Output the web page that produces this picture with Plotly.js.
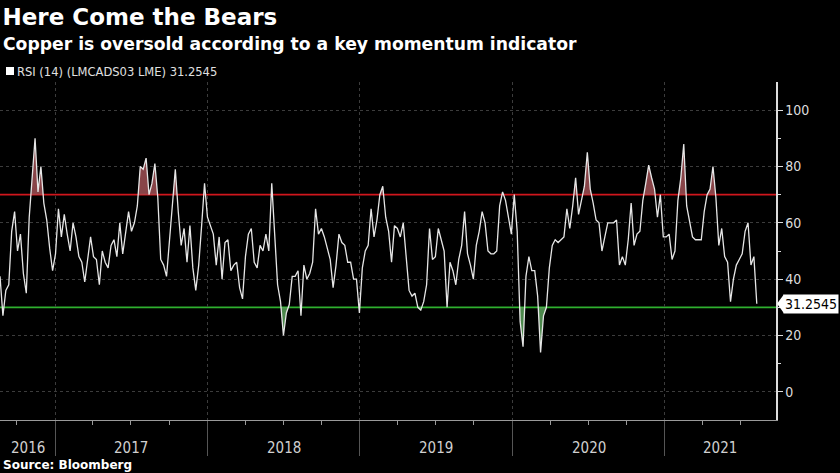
<!DOCTYPE html>
<html><head><meta charset="utf-8">
<script src="https://cdn.plot.ly/plotly-3.0.1.min.js"></script>
<style>html,body{margin:0;padding:0;background:#000;}#chart{width:840px;height:473px;}</style>
</head><body><div id="chart"></div>
<script>
// Weekly observation dates
const dates = [
"2016-08-22","2016-08-29","2016-09-05","2016-09-12","2016-09-19","2016-09-26","2016-10-03","2016-10-10","2016-10-17","2016-10-24","2016-10-31","2016-11-07","2016-11-14","2016-11-21","2016-11-28","2016-12-05","2016-12-12","2016-12-19","2016-12-26",
"2017-01-02","2017-01-09","2017-01-16","2017-01-23","2017-01-30","2017-02-06","2017-02-13","2017-02-20","2017-02-27","2017-03-06","2017-03-13","2017-03-20","2017-03-27","2017-04-03","2017-04-10","2017-04-17","2017-04-24","2017-05-01","2017-05-08","2017-05-15","2017-05-22","2017-05-29","2017-06-05","2017-06-12","2017-06-19","2017-06-26","2017-07-03","2017-07-10","2017-07-17","2017-07-24","2017-07-31","2017-08-07","2017-08-14","2017-08-21","2017-08-28","2017-09-04","2017-09-11","2017-09-18","2017-09-25","2017-10-02","2017-10-09","2017-10-16","2017-10-23","2017-10-30","2017-11-06","2017-11-13","2017-11-20","2017-11-27","2017-12-04","2017-12-11","2017-12-18","2017-12-25",
"2018-01-01","2018-01-08","2018-01-15","2018-01-22","2018-01-29","2018-02-05","2018-02-12","2018-02-19","2018-02-26","2018-03-05","2018-03-12","2018-03-19","2018-03-26","2018-04-02","2018-04-09","2018-04-16","2018-04-23","2018-04-30","2018-05-07","2018-05-14","2018-05-21","2018-05-28","2018-06-04","2018-06-11","2018-06-18","2018-06-25","2018-07-02","2018-07-09","2018-07-16","2018-07-23","2018-07-30","2018-08-06","2018-08-13","2018-08-20","2018-08-27","2018-09-03","2018-09-10","2018-09-17","2018-09-24","2018-10-01","2018-10-08","2018-10-15","2018-10-22","2018-10-29","2018-11-05","2018-11-12","2018-11-19","2018-11-26","2018-12-03","2018-12-10","2018-12-17","2018-12-24","2018-12-31",
"2019-01-07","2019-01-14","2019-01-21","2019-01-28","2019-02-04","2019-02-11","2019-02-18","2019-02-25","2019-03-04","2019-03-11","2019-03-18","2019-03-25","2019-04-01","2019-04-08","2019-04-15","2019-04-22","2019-04-29","2019-05-06","2019-05-13","2019-05-20","2019-05-27","2019-06-03","2019-06-10","2019-06-17","2019-06-24","2019-07-01","2019-07-08","2019-07-15","2019-07-22","2019-07-29","2019-08-05","2019-08-12","2019-08-19","2019-08-26","2019-09-02","2019-09-09","2019-09-16","2019-09-23","2019-09-30","2019-10-07","2019-10-14","2019-10-21","2019-10-28","2019-11-04","2019-11-11","2019-11-18","2019-11-25","2019-12-02","2019-12-09","2019-12-16","2019-12-23","2019-12-30",
"2020-01-06","2020-01-13","2020-01-20","2020-01-27","2020-02-03","2020-02-10","2020-02-17","2020-02-24","2020-03-02","2020-03-09","2020-03-16","2020-03-23","2020-03-30","2020-04-06","2020-04-13","2020-04-20","2020-04-27","2020-05-04","2020-05-11","2020-05-18","2020-05-25","2020-06-01","2020-06-08","2020-06-15","2020-06-22","2020-06-29","2020-07-06","2020-07-13","2020-07-20","2020-07-27","2020-08-03","2020-08-10","2020-08-17","2020-08-24","2020-08-31","2020-09-07","2020-09-14","2020-09-21","2020-09-28","2020-10-05","2020-10-12","2020-10-19","2020-10-26","2020-11-02","2020-11-09","2020-11-16","2020-11-23","2020-11-30","2020-12-07","2020-12-14","2020-12-21","2020-12-28",
"2021-01-04","2021-01-11","2021-01-18","2021-01-25","2021-02-01","2021-02-08","2021-02-15","2021-02-22","2021-03-01","2021-03-08","2021-03-15","2021-03-22","2021-03-29","2021-04-05","2021-04-12","2021-04-19","2021-04-26","2021-05-03","2021-05-10","2021-05-17","2021-05-24","2021-05-31","2021-06-07","2021-06-14","2021-06-21","2021-06-28","2021-07-05","2021-07-12","2021-07-19","2021-07-26","2021-08-02","2021-08-09"
];
// RSI (14) values
const rsi = [
41,27,36,38,57,64,50,56,42,35,62,75,90,71,80,67,61,51,43,
49,65,55,63,56,50,60,55,48,46,39,48,55,48,47,38,50,46,44,52,54,48,60,49,57,64,57,60,66,80,79,83,70,74,81,69,47,45,41,53,68,79,64,52,58,46,59,44,36,45,59,74,
62,59,56,45,55,40,53,54,43,45,46,37,33,48,56,58,46,44,52,50,56,50,74,56,38,32,20,28,31,41,41,43,27,45,40,42,46,65,56,58,55,51,47,37,45,56,53,52,46,46,40,40,28,
44,50,52,65,55,61,70,73,62,57,46,59,58,55,60,48,36,34,35,30,29,32,38,58,47,48,58,54,50,30,46,43,38,47,52,64,49,45,40,52,57,64,60,50,49,49,50,66,71,68,62,56,
70,57,25,16,41,48,43,43,34,14,27,30,44,52,54,53,54,55,65,58,66,76,63,68,73,85,72,67,61,60,50,55,60,60,60,61,45,48,45,54,67,52,56,57,68,74,80.5,76,72,62,70,55,
55,56,47,50,68,76,88,66,60,55,54,54,54,64,70,72,80,69,52,58,48,46,32,40,45,47,49,57,60,45,48,31.2545
];
const yearLabels = ["2016","2017","2018","2019","2020","2021"];
const yearStarts = ["2017-01-01","2018-01-01","2019-01-01","2020-01-01","2021-01-01"];
const quarterTicks = ["2016-10-01","2017-04-01","2017-07-01","2017-10-01","2018-04-01","2018-07-01","2018-10-01",
  "2019-04-01","2019-07-01","2019-10-01","2020-04-01","2020-07-01","2020-10-01","2021-04-01","2021-07-01"];
const yTicks = [0,20,40,60,80,100];
const yMinorTicks = [10,30,50,70,90];
const OVERBOUGHT = 70, OVERSOLD = 30;
const xRange = ["2016-08-22","2021-09-24"];
const yRange = [-10,110];
const seriesName = "RSI (14) (LMCADS03 LME)";

const COND = "DejaVu Sans Condensed, Liberation Sans Narrow, sans-serif";
const BOLD = "DejaVu Sans, Verdana, sans-serif";
const t = dates.map(d => new Date(d).getTime());

function band(thr, above) {
  const xs = [], ys = [];
  for (let i = 0; i < rsi.length; i++) {
    if (i > 0) {
      const a = rsi[i-1] - thr, b = rsi[i] - thr;
      if (a * b < 0) {
        const f = a / (a - b);
        xs.push(t[i-1] + f * (t[i] - t[i-1])); ys.push(thr);
      }
    }
    xs.push(t[i]);
    ys.push(above ? Math.max(rsi[i], thr) : Math.min(rsi[i], thr));
  }
  return {x: xs, y: ys};
}
const hi = band(OVERBOUGHT, true), lo = band(OVERSOLD, false);

const traces = [
  {x: hi.x, y: hi.x.map(() => OVERBOUGHT), mode: "lines", line: {width: 0}, hoverinfo: "skip", showlegend: false},
  {x: hi.x, y: hi.y, mode: "lines", line: {width: 0}, fill: "tonexty", fillcolor: "rgba(170,85,90,0.8)", hoverinfo: "skip", showlegend: false},
  {x: lo.x, y: lo.x.map(() => OVERSOLD), mode: "lines", line: {width: 0}, hoverinfo: "skip", showlegend: false},
  {x: lo.x, y: lo.y, mode: "lines", line: {width: 0}, fill: "tonexty", fillcolor: "rgba(95,170,95,0.8)", hoverinfo: "skip", showlegend: false},
  {x: t, y: rsi, mode: "lines", name: seriesName, line: {color: "#e6e6e6", width: 1.3}, showlegend: false}
];

function mid(a, b) { return (a + b) / 2; }
const r0 = new Date(xRange[0]).getTime(), r1 = new Date(xRange[1]).getTime();
const bounds = [r0].concat(yearStarts.map(d => new Date(d).getTime())).concat([r1]);
const annotations = yearLabels.map((y, i) => ({
  x: mid(bounds[i], bounds[i+1]), xref: "x", y: 0, yref: "paper", yanchor: "middle", yshift: -28,
  text: y, showarrow: false, font: {family: COND, size: 15, color: "#d0d0d0"}
}));
annotations.push({
  x: 0, xref: "paper", xanchor: "left", xshift: 1, y: 1, yref: "paper", yanchor: "middle", yshift: 38,
  text: "<b>Copper is oversold according to a key momentum indicator</b>", showarrow: false,
  font: {family: BOLD, size: 17.2, color: "#ffffff"}
});
annotations.push({
  x: 0, xref: "paper", xanchor: "left", xshift: 15, y: 1, yref: "paper", yanchor: "middle", yshift: 11,
  text: seriesName + " " + rsi[rsi.length-1], showarrow: false,
  font: {family: COND, size: 12.8, color: "#e0e0e0"}
});
annotations.push({
  x: 0, xref: "paper", xanchor: "left", xshift: 1, y: 0, yref: "paper", yanchor: "middle", yshift: -45,
  text: "<b>Source: Bloomberg</b>", showarrow: false, font: {family: BOLD, size: 12, color: "#ffffff"}
});
annotations.push({
  x: 1, xref: "paper", xanchor: "left", xshift: 7, y: rsi[rsi.length-1], yref: "y", yanchor: "middle",
  text: String(rsi[rsi.length-1]), showarrow: false, bgcolor: "#ffffff", borderpad: 1,
  font: {family: COND, size: 14, color: "#000000"}
});

const shapes = [
  {type: "line", xref: "paper", x0: 0, x1: 1, yref: "y", y0: OVERBOUGHT, y1: OVERBOUGHT, line: {color: "#d0161d", width: 1.6}, layer: "below"},
  {type: "line", xref: "paper", x0: 0, x1: 1, yref: "y", y0: OVERSOLD, y1: OVERSOLD, line: {color: "#2fb02f", width: 1.6}, layer: "below"},
  {type: "rect", xref: "paper", yref: "paper", xsizemode: "pixel", ysizemode: "pixel", xanchor: 0, yanchor: 1,
   x0: 6, x1: 14, y0: 7, y1: 15, fillcolor: "#ffffff", line: {width: 0}},
  {type: "path", xref: "paper", yref: "y", xsizemode: "pixel", ysizemode: "pixel", xanchor: 1, yanchor: rsi[rsi.length-1],
   path: "M 1 0 L 8 9.5 L 8 -9.5 Z", fillcolor: "#ffffff", line: {width: 0}}
];

const layout = {
  width: 840, height: 473,
  paper_bgcolor: "#000000", plot_bgcolor: "#000000",
  margin: {l: 0, r: 64, t: 82, b: 53},
  title: {text: "<b>Here Come the Bears</b>", xref: "container", x: 0.003, xanchor: "left",
          yref: "container", y: 1 - 17/473, yanchor: "middle",
          font: {family: BOLD, size: 23, color: "#ffffff"}},
  xaxis: {type: "date", range: xRange, tickmode: "array", tickvals: yearStarts, showticklabels: false,
          ticks: "outside", ticklen: 35, tickcolor: "#555555", tickwidth: 1,
          showgrid: true, gridcolor: "#3c3c3c", griddash: "dot", gridwidth: 1,
          showline: true, linecolor: "#9a9a9a", linewidth: 1, zeroline: false,
          minor: {tickmode: "array", tickvals: quarterTicks, ticks: "outside", ticklen: 4, tickcolor: "#9a9a9a", showgrid: false}},
  yaxis: {side: "right", range: yRange, tickmode: "array", tickvals: yTicks,
          ticks: "outside", ticklen: 5, tickcolor: "#dddddd", tickwidth: 1,
          showgrid: true, gridcolor: "#3c3c3c", griddash: "dot", gridwidth: 1,
          showline: true, linecolor: "#dddddd", linewidth: 1.5, zeroline: false,
          tickfont: {family: COND, size: 14, color: "#dddddd"},
          minor: {tickmode: "array", tickvals: yMinorTicks, ticks: "outside", ticklen: 3, tickcolor: "#dddddd", showgrid: false}},
  showlegend: false,
  annotations: annotations,
  shapes: shapes
};

Plotly.newPlot("chart", traces, layout, {displayModeBar: false, staticPlot: true});
</script></body></html>
